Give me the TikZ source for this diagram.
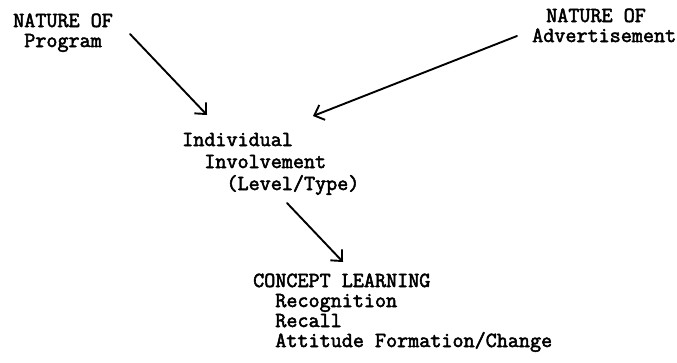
\documentclass[tikz,border=0pt]{standalone}
\usepackage{fontspec}
\newfontfamily\tw[FakeBold=2.5]{Latin Modern Mono}
\usetikzlibrary{arrows.meta}
\begin{document}
\begin{tikzpicture}[x=1pt,y=-1pt,
  lbl/.style={inner sep=0pt, anchor=base west, align=left},
  arr/.style={line width=1.9pt, line cap=round,
    -{Straight Barb[length=8.5pt,width=16pt,line width=1.9pt]}}]
\useasboundingbox (0,0) rectangle (677,362);
\node[lbl, font=\tw\fontsize{21.5}{20}\selectfont] (prog) at (13,47)
  {NATURE OF\\\ Program};
\node[lbl, font=\tw\fontsize{21.5}{20}\selectfont] (adv) at (532,42)
  {\hspace*{14pt}NATURE OF\\Advertisement};
\node[lbl, font=\tw\fontsize{21.5}{22}\selectfont] (indiv) at (182,190)
  {Individual\\\ \ Involvement\\\ \ \ \ (Level/Type)};
\node[lbl, font=\tw\fontsize{21.5}{20}\selectfont] (concept) at (253,347)
  {CONCEPT LEARNING\\\ \ Recognition\\\ \ Recall\\\ \ Attitude Formation/Change};
\coordinate (progS) at (130,34);
\coordinate (progE) at (207,115);
\coordinate (advS) at (517,36);
\coordinate (advE) at (313,116);
\coordinate (indS) at (287,203);
\coordinate (indE) at (343,262);
\draw[arr] (progS) -- (progE);
\draw[arr] (advS) -- (advE);
\draw[arr] (indS) -- (indE);
\end{tikzpicture}
\end{document}
